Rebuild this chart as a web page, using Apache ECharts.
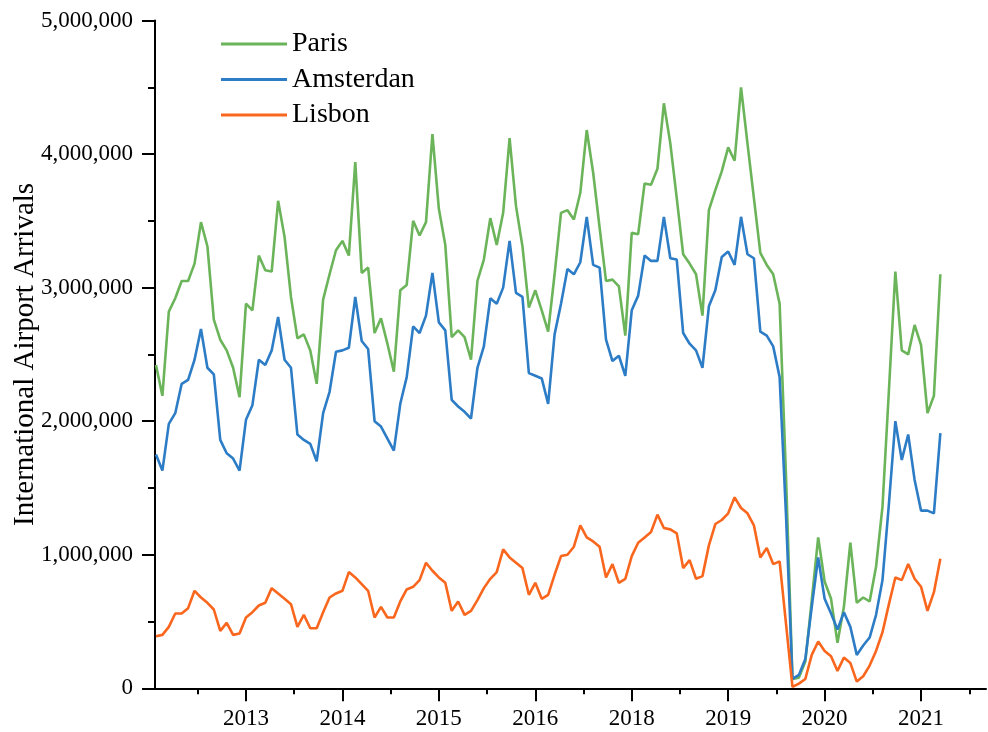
<!DOCTYPE html>
<html><head><meta charset="utf-8">
<script src="https://cdn.jsdelivr.net/npm/echarts@6/dist/echarts.min.js"></script>
<style>html,body{margin:0;padding:0;background:#fff}#c{width:988px;height:732px}</style>
</head><body><div id="c"></div>
<script>
// Monthly values in millions of arrivals (index = month position along the axis)
const seriesNames = ['Paris', 'Amsterdan', 'Lisbon'];
const paris = [
  2.42, 2.19, 2.82, 2.92, 3.05, 3.05, 3.18, 3.49, 3.31, 2.76, 2.61, 2.53, 2.40, 2.18, 2.88, 2.83, 3.24,
  3.13, 3.12, 3.65, 3.38, 2.93, 2.62, 2.65, 2.53, 2.28, 2.91, 3.10, 3.28, 3.35, 3.24, 3.94, 3.11, 3.15,
  2.66, 2.77, 2.58, 2.37, 2.98, 3.02, 3.50, 3.39, 3.49, 4.15, 3.59, 3.32, 2.63, 2.68, 2.63, 2.46, 3.05,
  3.21, 3.52, 3.32, 3.56, 4.12, 3.61, 3.31, 2.85, 2.98, 2.83, 2.67, 3.10, 3.56, 3.58, 3.51, 3.71,
  4.18, 3.86, 3.45, 3.05, 3.06, 3.01, 2.64, 3.41, 3.40, 3.78, 3.77, 3.89, 4.38, 4.08, 3.67, 3.25,
  3.18, 3.10, 2.79, 3.58, 3.73, 3.87, 4.05, 3.95, 4.50, 4.08, 3.67, 3.26, 3.17, 3.10, 2.88,
  1.58, 0.07, 0.08, 0.20, 0.66, 1.13, 0.80, 0.67, 0.34, 0.61, 1.09, 0.64, 0.68, 0.65, 0.91, 1.36,
  2.23, 3.12, 2.53, 2.50, 2.72, 2.57, 2.06, 2.19, 3.10
];
const amsterdam = [
  1.75, 1.63, 1.98, 2.06, 2.28, 2.31, 2.46, 2.69, 2.40, 2.35, 1.86, 1.76, 1.72, 1.63, 2.01, 2.12, 2.46,
  2.42, 2.53, 2.78, 2.46, 2.40, 1.90, 1.86, 1.83, 1.70, 2.06, 2.22, 2.52, 2.53, 2.55, 2.93, 2.60, 2.54,
  2.00, 1.96, 1.87, 1.78, 2.13, 2.33, 2.71, 2.66, 2.79, 3.11, 2.74, 2.68, 2.16, 2.11, 2.07, 2.02, 2.40,
  2.56, 2.92, 2.88, 3.00, 3.35, 2.96, 2.93, 2.36, 2.34, 2.32, 2.13, 2.65, 2.88, 3.14, 3.10, 3.19,
  3.53, 3.17, 3.15, 2.61, 2.45, 2.49, 2.34, 2.83, 2.94, 3.24, 3.20, 3.20, 3.53, 3.22, 3.21, 2.66,
  2.58, 2.53, 2.40, 2.86, 2.98, 3.23, 3.27, 3.17, 3.53, 3.25, 3.22, 2.67, 2.64, 2.56, 2.33,
  1.29, 0.07, 0.10, 0.22, 0.61, 0.98, 0.67, 0.56, 0.44, 0.57, 0.46, 0.25, 0.32, 0.38, 0.55, 0.81,
  1.38, 2.00, 1.71, 1.90, 1.56, 1.33, 1.33, 1.31, 1.91
];
const lisbon = [
  0.39, 0.40, 0.46, 0.56, 0.56, 0.60, 0.73, 0.68, 0.64, 0.59, 0.43, 0.49, 0.40, 0.41, 0.53, 0.57,
  0.62, 0.64, 0.75, 0.71, 0.67, 0.63, 0.46, 0.55, 0.45, 0.45, 0.57, 0.68, 0.71, 0.73, 0.87, 0.83,
  0.78, 0.73, 0.53, 0.61, 0.53, 0.53, 0.65, 0.74, 0.76, 0.81, 0.94, 0.88, 0.83, 0.79, 0.58, 0.65,
  0.55, 0.58, 0.66, 0.75, 0.82, 0.87, 1.04, 0.98, 0.94, 0.90, 0.70, 0.79, 0.67, 0.70, 0.85, 0.99,
  1.00, 1.06, 1.22, 1.13, 1.10, 1.06, 0.83, 0.93, 0.79, 0.82, 0.99, 1.09, 1.13, 1.17, 1.30, 1.20,
  1.19, 1.16, 0.90, 0.96, 0.82, 0.84, 1.07, 1.23, 1.26, 1.31, 1.43, 1.35, 1.31, 1.22, 0.98, 1.05,
  0.93, 0.95,
  0.48, 0.01, 0.035, 0.07, 0.25, 0.35, 0.28, 0.24, 0.13, 0.23, 0.19, 0.05, 0.09, 0.17, 0.28, 0.42,
  0.63, 0.83, 0.81, 0.93, 0.82, 0.76, 0.58, 0.72, 0.97
];
const xTickValues = [14, 29, 44, 59, 74, 89, 104, 119];
const xTickLabels = ['2013', '2014', '2015', '2016', '2018', '2019', '2020', '2021'];
const xMinorTickValues = [6.5, 21.5, 36.5, 51.5, 66.5, 81.5, 96.5, 111.5, 126.5];
const yTitle = 'International Airport Arrivals';

const FONT = '"Liberation Serif", "Times New Roman", serif';
const colors = ['#6BB45A', '#2D7CC6', '#F9661D'];
const toPts = arr => arr.map((v, i) => [i, v * 1e6]);
const allData = [paris, amsterdam, lisbon];

const chart = echarts.init(document.getElementById('c'), null, {renderer: 'canvas'});
chart.setOption({
  backgroundColor: '#fff',
  animation: false,
  grid: {left: 155, right: 2, top: 20.5, bottom: 43.7, containLabel: false, outerBoundsMode: 'none'},
  legend: {
    orient: 'vertical', left: 216, top: 25,
    icon: 'rect', itemWidth: 66, itemHeight: 3, itemGap: 7.5,
    data: seriesNames,
    textStyle: {fontFamily: FONT, fontSize: 28, color: '#000', lineHeight: 28}
  },
  xAxis: [{
    type: 'value', min: -0.15, max: 129.1,
    position: 'bottom',
    axisLine: {show: true, onZero: false, lineStyle: {color: '#000', width: 2}},
    axisTick: {show: true, customValues: xTickValues, length: 13, lineStyle: {color: '#000', width: 2}},
    axisLabel: {
      customValues: xTickValues, margin: 19,
      fontFamily: FONT, fontSize: 23, color: '#000',
      formatter: v => { const k = xTickValues.indexOf(v); return k >= 0 ? xTickLabels[k] : ''; }
    },
    splitLine: {show: false}
  }, {
    type: 'value', min: -0.15, max: 129.1,
    position: 'bottom',
    axisLine: {show: false, onZero: false},
    axisTick: {show: true, customValues: xMinorTickValues, length: 6, lineStyle: {color: '#000', width: 2}},
    axisLabel: {show: false},
    splitLine: {show: false}
  }],
  yAxis: {
    type: 'value', min: 0, max: 5000000, interval: 1000000,
    name: yTitle, nameLocation: 'middle', nameGap: 115, nameMoveOverlap: false,
    nameTextStyle: {fontFamily: FONT, fontSize: 29, color: '#000'},
    axisLine: {show: true, onZero: false, lineStyle: {color: '#000', width: 2}},
    axisTick: {show: true, length: 13, lineStyle: {color: '#000', width: 2}},
    minorTick: {show: true, splitNumber: 2, length: 7, lineStyle: {color: '#000', width: 2}},
    axisLabel: {
      margin: 22, fontFamily: FONT, fontSize: 23, color: '#000',
      formatter: v => Number(v).toLocaleString('en-US')
    },
    splitLine: {show: false}
  },
  series: seriesNames.map((n, k) => ({
    name: n, type: 'line', xAxisIndex: 0,
    data: toPts(allData[k]),
    showSymbol: false, symbol: 'none',
    lineStyle: {color: colors[k], width: 2.6},
    itemStyle: {color: colors[k]},
    z: 2 + k
  }))
});
</script></body></html>
